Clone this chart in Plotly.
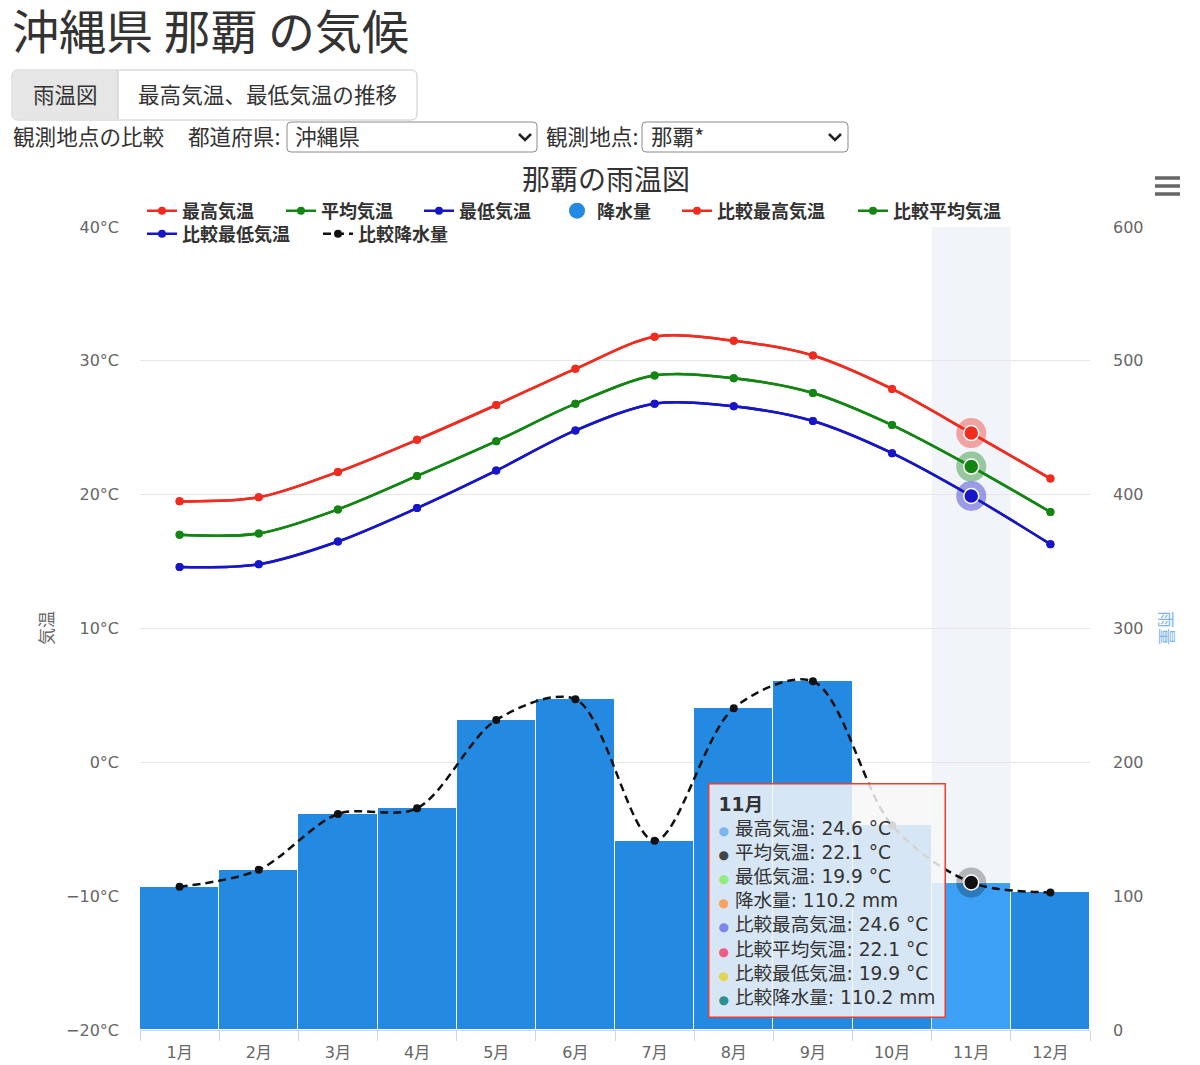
import plotly.graph_objects as go

# ---------------- data ----------------
months = ["1月", "2月", "3月", "4月", "5月", "6月", "7月", "8月", "9月", "10月", "11月", "12月"]
tmax = [19.5, 19.8, 21.7, 24.1, 26.7, 29.4, 31.8, 31.5, 30.4, 27.9, 24.6, 21.2]
tavg = [17.0, 17.1, 18.9, 21.4, 24.0, 26.8, 28.9, 28.7, 27.6, 25.2, 22.1, 18.7]
tmin = [14.6, 14.8, 16.5, 19.0, 21.8, 24.8, 26.8, 26.6, 25.5, 23.1, 19.9, 16.3]
prec = [107.0, 119.7, 161.4, 165.7, 231.6, 247.2, 141.4, 240.5, 260.5, 152.9, 110.2, 102.8]
cmp_tmax = [19.5, 19.8, 21.7, 24.1, 26.7, 29.4, 31.8, 31.5, 30.4, 27.9, 24.6, 21.2]
cmp_tavg = [17.0, 17.1, 18.9, 21.4, 24.0, 26.8, 28.9, 28.7, 27.6, 25.2, 22.1, 18.7]
cmp_tmin = [14.6, 14.8, 16.5, 19.0, 21.8, 24.8, 26.8, 26.6, 25.5, 23.1, 19.9, 16.3]
cmp_prec = [107.0, 119.7, 161.4, 165.7, 231.6, 247.2, 141.4, 240.5, 260.5, 152.9, 110.2, 102.8]
temp_ticks = [-20, -10, 0, 10, 20, 30, 40]
temp_ticktext = ["−20°C", "−10°C", "0°C", "10°C", "20°C", "30°C", "40°C"]
prec_ticks = [0, 100, 200, 300, 400, 500, 600]
hover_idx = 10

# ---------------- style ----------------
RED, GREEN, BLUE, BLACK = "#f22b1f", "#138513", "#1616c8", "#111111"
BAR, BAR_HL = "#2489e1", "#3ca1f6"
CJK = "Noto Sans CJK JP"
MIX = "DejaVu Sans, Noto Sans CJK JP"
W, H = 1200, 1065
L, R, T, B = 140, 1090, 227, 1030


def px(x):
    return (x - L) / (R - L)


def py(y):
    return (B - y) / (B - T)


fig = go.Figure()

# bars (precipitation)
fig.add_trace(go.Bar(
    x=months, y=prec, yaxis="y2", name="降水量", showlegend=False,
    width=1, marker=dict(color=[BAR_HL if i == hover_idx else BAR for i in range(len(months))],
                         line=dict(color="white", width=1)),
))

line_specs = [
    ("最高気温", tmax, RED, "y", "solid", "legend"),
    ("平均気温", tavg, GREEN, "y", "solid", "legend2"),
    ("最低気温", tmin, BLUE, "y", "solid", "legend3"),
]
for name, vals, col, ax, dash, lg in line_specs:
    fig.add_trace(go.Scatter(
        x=months, y=vals, yaxis=ax, name=name, mode="lines+markers", legend=lg,
        line=dict(color=col, width=2.5, shape="spline", smoothing=0.9, dash=dash),
        marker=dict(size=8, color=col),
    ))

# legend-only entry for precipitation (circle symbol)
fig.add_trace(go.Scatter(
    x=[None], y=[None], name="降水量", mode="markers", legend="legend4",
    marker=dict(size=16, color=BAR),
))

cmp_specs = [
    ("比較最高気温", cmp_tmax, RED, "y", "solid", "legend5"),
    ("比較平均気温", cmp_tavg, GREEN, "y", "solid", "legend6"),
    ("比較最低気温", cmp_tmin, BLUE, "y", "solid", "legend7"),
    ("比較降水量", cmp_prec, BLACK, "y2", "8px,5px", "legend8"),
]
for name, vals, col, ax, dash, lg in cmp_specs:
    fig.add_trace(go.Scatter(
        x=months, y=vals, yaxis=ax, name=name, mode="lines+markers", legend=lg,
        line=dict(color=col, width=2.5, shape="spline", smoothing=0.9, dash=dash),
        marker=dict(size=8, color=col),
    ))

# hover halos at the highlighted month
halo_specs = [
    (tmax, RED, "rgba(242,43,31,0.4)", "y"),
    (tavg, GREEN, "rgba(19,133,19,0.4)", "y"),
    (tmin, BLUE, "rgba(22,22,200,0.4)", "y"),
    (cmp_prec, BLACK, "rgba(0,0,0,0.25)", "y2"),
]
for vals, col, hcol, ax in halo_specs:
    fig.add_trace(go.Scatter(
        x=[months[hover_idx]], y=[vals[hover_idx]], yaxis=ax, mode="markers", showlegend=False,
        marker=dict(size=30, color=hcol),
    ))
    fig.add_trace(go.Scatter(
        x=[months[hover_idx]], y=[vals[hover_idx]], yaxis=ax, mode="markers", showlegend=False,
        marker=dict(size=15, color=col, line=dict(color="white", width=1.5)),
    ))

# ---------------- shapes ----------------
shapes = []


def rrect(x0, y0, x1, y1, r, line, fill, lw=1):
    p = (f"M {px(x0 + r)},{py(y0)} L {px(x1 - r)},{py(y0)} Q {px(x1)},{py(y0)} {px(x1)},{py(y0 + r)} "
         f"L {px(x1)},{py(y1 - r)} Q {px(x1)},{py(y1)} {px(x1 - r)},{py(y1)} "
         f"L {px(x0 + r)},{py(y1)} Q {px(x0)},{py(y1)} {px(x0)},{py(y1 - r)} "
         f"L {px(x0)},{py(y0 + r)} Q {px(x0)},{py(y0)} {px(x0 + r)},{py(y0)} Z")
    return dict(type="path", xref="paper", yref="paper", path=p,
                line=dict(color=line, width=lw), fillcolor=fill, layer="above")


def chevron(cx, cy):
    p = f"M {px(cx - 6)},{py(cy - 3)} L {px(cx)},{py(cy + 3)} L {px(cx + 6)},{py(cy - 3)}"
    return dict(type="path", xref="paper", yref="paper", path=p,
                line=dict(color="#222", width=2.5), layer="above")


# highlight band for hovered category
shapes.append(dict(type="rect", xref="x", yref="paper", x0=hover_idx - 0.5, x1=hover_idx + 0.5,
                   y0=0, y1=1, fillcolor="rgba(204,214,235,0.28)", line=dict(width=0), layer="below"))
# button group
shapes.append(rrect(12, 70, 417, 120, 6, "#c8c8c8", "white"))
shapes.append(dict(type="path", xref="paper", yref="paper",
                   path=(f"M {px(18)},{py(71)} L {px(118)},{py(71)} L {px(118)},{py(119)} L {px(18)},{py(119)} "
                         f"Q {px(13)},{py(119)} {px(13)},{py(114)} L {px(13)},{py(76)} Q {px(13)},{py(71)} {px(18)},{py(71)} Z"),
                   fillcolor="#e6e6e6", line=dict(width=0), layer="above"))
shapes.append(dict(type="line", xref="paper", yref="paper", x0=px(118), x1=px(118), y0=py(71), y1=py(119),
                   line=dict(color="#c8c8c8", width=1)))
# select boxes
shapes.append(rrect(287, 122, 537, 152, 4, "#8a8a8a", "white"))
shapes.append(rrect(642, 122, 848, 152, 4, "#8a8a8a", "white"))
shapes.append(chevron(525, 137))
shapes.append(chevron(835, 137))
# menu icon
for yy in (178, 186, 194):
    shapes.append(dict(type="line", xref="paper", yref="paper", x0=px(1155), x1=px(1180), y0=py(yy), y1=py(yy),
                       line=dict(color="#666", width=3.5)))

# ---------------- annotations ----------------
ann = []


def text(s, x, y, size, color="#333", xanchor="left", family=CJK, angle=0, weight="normal"):
    ann.append(dict(text=s, x=px(x), y=py(y), xref="paper", yref="paper", xanchor=xanchor, yanchor="middle",
                    showarrow=False, textangle=angle, font=dict(size=size, color=color, family=family, weight=weight)))


text("沖縄県 那覇 の気候", 10, 29, 47)
text("雨温図", 65, 93, 21.5, xanchor="center")
text("最高気温、最低気温の推移", 267, 93, 21.6, xanchor="center")
text("観測地点の比較", 11, 135, 21.6)
text("都道府県:", 186, 135, 21.6)
text("沖縄県", 293, 135, 21.6)
text("観測地点:", 544, 135, 21.6)
text("那覇*", 649, 135, 21.6)
text("那覇の雨温図", 606, 178, 28, xanchor="center")
text("気温", 45, 628, 17, color="#666", xanchor="center", angle=-90)
text("雨量", 1168, 628, 17, color="#7cb5ec", xanchor="center", angle=90)

# tooltip
tip_rows = [
    ("#7cb5ec", "最高気温", tmax[hover_idx], "°C"),
    ("#434348", "平均気温", tavg[hover_idx], "°C"),
    ("#90ed7d", "最低気温", tmin[hover_idx], "°C"),
    ("#f7a35c", "降水量", prec[hover_idx], "mm"),
    ("#8085e9", "比較最高気温", cmp_tmax[hover_idx], "°C"),
    ("#f15c80", "比較平均気温", cmp_tavg[hover_idx], "°C"),
    ("#e4d354", "比較最低気温", cmp_tmin[hover_idx], "°C"),
    ("#2b908f", "比較降水量", cmp_prec[hover_idx], "mm"),
]
tip = f"<b>{months[hover_idx]}</b>"
for c, n, v, u in tip_rows:
    tip += f'<br><span style="color:{c};font-size:12px">●</span> {n}: {v:.1f} {u}'
ann.append(dict(text=tip, x=px(708), y=py(783), xref="paper", yref="paper", xanchor="left", yanchor="top",
                align="left", showarrow=False, bgcolor="rgba(247,247,247,0.85)", bordercolor="#f03b2e",
                borderwidth=1.5, borderpad=9, font=dict(size=18.6, color="#333", family=MIX)))

# ---------------- legends (one per entry, positioned like the original) ----------------
leg_pos = {
    "legend": (182, 211), "legend2": (321, 211), "legend3": (459, 211), "legend4": (597, 211),
    "legend5": (717, 211), "legend6": (893, 211), "legend7": (182, 234), "legend8": (358, 234),
}
legend_layout = {}
for k, (tx, ty) in leg_pos.items():
    legend_layout[k] = dict(x=px(tx - 40), y=py(ty), xanchor="left", yanchor="middle", orientation="h",
                            bgcolor="rgba(0,0,0,0)", borderwidth=0,
                            font=dict(size=18, color="#333", family=CJK, weight="bold"))

fig.update_layout(
    width=W, height=H,
    margin=dict(l=L, r=W - R, t=T, b=H - B, pad=0, autoexpand=False),
    paper_bgcolor="white", plot_bgcolor="white",
    font=dict(family=MIX, color="#666"),
    bargap=0,
    hovermode=False,
    shapes=shapes, annotations=ann,
    xaxis=dict(type="category", categoryorder="array", categoryarray=months, range=[-0.5, 11.5],
               showgrid=False, showline=True, linecolor="#ccd6eb", linewidth=1, automargin=False,
               ticks="outside", tickson="boundaries", ticklen=10, tickcolor="#ccd6eb", ticklabelstandoff=8,
               tickfont=dict(size=16, color="#666", family=MIX), fixedrange=True),
    yaxis=dict(range=[-20, 40], tickmode="array", tickvals=temp_ticks, ticktext=temp_ticktext,
               showgrid=True, gridcolor="#e6e6e6", automargin=False,
               zeroline=False, showline=False, ticks="", ticklabelstandoff=20,
               tickfont=dict(size=16, color="#666", family=MIX), fixedrange=True),
    yaxis2=dict(range=[0, 600], tickvals=prec_ticks, overlaying="y", side="right", showgrid=False,
                zeroline=False, showline=False, ticks="", ticklabelstandoff=22, automargin=False,
                tickfont=dict(size=16, color="#666", family=MIX), fixedrange=True),
    **legend_layout,
)

fig.write_html("out.html", config={"displayModeBar": False},
               post_script="document.body.style.margin='0';document.body.style.overflow='hidden';")
